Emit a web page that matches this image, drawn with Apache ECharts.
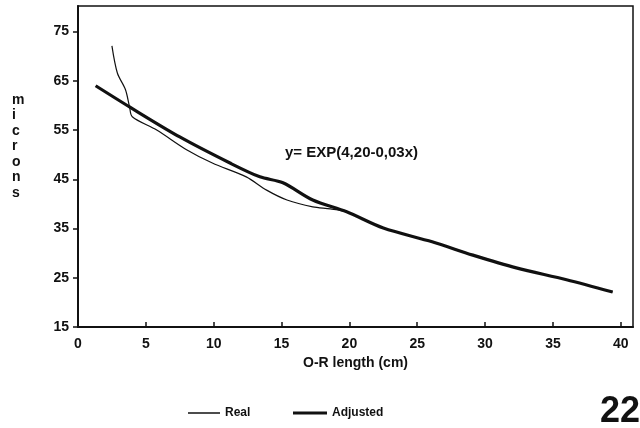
<!DOCTYPE html>
<html><head><meta charset="utf-8">
<script src="https://cdn.jsdelivr.net/npm/echarts@6/dist/echarts.min.js"></script>
<style>html,body{margin:0;padding:0;background:#fff}#c{width:640px;height:428px}</style>
</head><body><div id="c"></div>
<script>
var xTicks = [0,5,10,15,20,25,30,35,40];
var yTicks = [15,25,35,45,55,65,75];
var realX = [2.5,2.9,3.5,3.8,4.0,5.8,8.0,9.9,12.4,13.9,15.4,17.3,18.6,19.8,22.5,26.1,29.1,32.3,36.0,39.4];
var realY = [72.1,66.6,63.2,59.7,57.7,55.0,51.0,48.3,45.5,42.8,40.8,39.4,39.0,38.4,35.1,32.3,29.6,27.0,24.6,22.1];
var adjX = [1.3,3.8,7.5,11.2,13.4,15.1,17.3,19.8,22.5,26.1,29.1,32.3,36.0,39.4];
var adjY = [64.0,59.7,53.6,48.3,45.5,44.3,40.8,38.4,35.1,32.3,29.6,27.0,24.6,22.1];
function pairs(xs, ys){ return xs.map(function(x,i){return [x, ys[i]];}); }
var font = 'Liberation Sans';
var legendText = {color:'#111',fontFamily:font,fontWeight:'bold',fontSize:12};
var chart = echarts.init(document.getElementById('c'));
chart.setOption({
  backgroundColor:'#fff',
  animation:false,
  grid:{left:78,right:7,top:6,bottom:101,show:true,borderColor:'#111',borderWidth:1.5},
  xAxis:{type:'value',min:0,max:40.9,
    axisLine:{lineStyle:{color:'#111',width:2}},
    axisTick:{inside:true,length:5,lineStyle:{color:'#111',width:1.5},customValues:xTicks},
    axisLabel:{customValues:xTicks,color:'#111',fontFamily:font,fontWeight:'bold',fontSize:14,margin:10},
    splitLine:{show:false},
    name:'O-R length (cm)',nameLocation:'middle',nameGap:28,
    nameTextStyle:{color:'#111',fontFamily:font,fontWeight:'bold',fontSize:14}},
  yAxis:{type:'value',min:15,max:80.2,
    axisLine:{lineStyle:{color:'#111',width:2}},
    axisTick:{inside:false,length:5,lineStyle:{color:'#111',width:1.5},customValues:yTicks},
    axisLabel:{customValues:yTicks,color:'#111',fontFamily:font,fontWeight:'bold',fontSize:14,margin:9},
    splitLine:{show:false}},
  legend:[
    {left:183,top:402,icon:'rect',itemWidth:32,itemHeight:1.5,itemGap:6,textStyle:legendText,data:['Real']},
    {left:288,top:402,icon:'rect',itemWidth:34,itemHeight:3,itemGap:6,textStyle:legendText,data:['Adjusted']}
  ],
  graphic:[
    {type:'text',left:12,top:92,style:{text:'m\ni\nc\nr\no\nn\ns',fill:'#111',font:'bold 14px '+font,lineHeight:15.5,align:'center'}},
    {type:'text',left:285,top:145,style:{text:'y= EXP(4,20-0,03x)',fill:'#111',font:'bold 15px '+font}},
    {type:'text',left:600,top:394,style:{text:'22',fill:'#111',font:'bold 36px '+font}}
  ],
  series:[
    {name:'Real',type:'line',data:pairs(realX,realY),symbol:'none',smooth:0.3,
      lineStyle:{color:'#111',width:1.2},itemStyle:{color:'#111'},z:3},
    {name:'Adjusted',type:'line',data:pairs(adjX,adjY),symbol:'none',smooth:0.3,
      lineStyle:{color:'#111',width:3.2},itemStyle:{color:'#111'},z:2}
  ]
});
</script></body></html>
